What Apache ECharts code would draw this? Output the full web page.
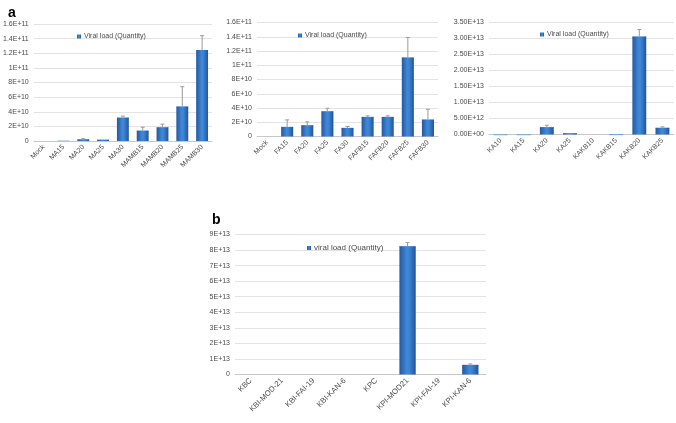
<!DOCTYPE html>
<html><head><meta charset="utf-8">
<script src="https://cdn.jsdelivr.net/npm/echarts@6/dist/echarts.min.js"></script>
<style>html,body{margin:0;padding:0;background:#fff}#c{width:676px;height:423px}</style>
</head><body><div id="c"></div>
<script>
// Panel a1
const catsA1 = ['Mock','MA15','MA20','MA25','MA30','MAMB15','MAMB20','MAMB25','MAMB30'];
const valsA1 = [0, 3e8, 2.3e9, 1.8e9, 3.2e10, 1.42e10, 1.88e10, 4.72e10, 1.243e11];
const errA1  = [null, null, 3.2e9, null, 3.4e10, 1.88e10, 2.3e10, 7.43e10, 1.44e11];
// Panel a2
const catsA2 = ['Mock','FA15','FA20','FA25','FA30','FAFB15','FAFB20','FAFB25','FAFB30'];
const valsA2 = [0, 1.35e10, 1.58e10, 3.54e10, 1.21e10, 2.75e10, 2.75e10, 1.11e11, 2.38e10];
const errA2  = [null, 2.33e10, 2.05e10, 3.96e10, 1.4e10, 2.9e10, 2.9e10, 1.39e11, 3.82e10];
// Panel a3
const catsA3 = ['KA10','KA15','KA20','KA25','KAKB10','KAKB15','KAKB20','KAKB25'];
const valsA3 = [1e11, 1e11, 2.3e12, 4e11, 0, 1.5e11, 3.06e13, 2.1e12];
const errA3  = [null, null, 2.9e12, null, null, null, 3.28e13, 2.4e12];
// Panel b
const catsB = ['KBC','KBI-MOD-21','KBI-FAI-19','KBI-KAN-6','KPC','KPI-MOD21','KPI-FAI-19','KPI-KAN-6'];
const valsB = [0, 0, 0, 0, 0, 8.25e13, 0, 6.2e12];
const errB  = [null, null, null, null, null, 8.48e13, null, 6.8e12];

const nameA = 'Viral load (Quantity)';
const nameB = 'viral load (Quantity)';

function expFmt(dec) {
  return function (v) {
    if (v === 0 && dec === 0) return '0';
    if (v === 0) return (0).toFixed(dec) + 'E+00';
    const e = Math.floor(Math.log10(v) + 1e-9);
    let m = v / Math.pow(10, e);
    m = Math.round(m * 100) / 100;
    const ms = dec > 0 ? m.toFixed(dec) : String(m);
    return ms + 'E+' + (e < 10 ? '0' + e : e);
  };
}

const font = 'Liberation Sans, Arial, sans-serif';
const txtColor = '#4a4a4a';
const barColor = {
  type: 'linear', x: 0, y: 0, x2: 1, y2: 0,
  colorStops: [
    {offset: 0, color: '#2558a0'},
    {offset: 0.45, color: '#3f88d8'},
    {offset: 0.6, color: '#3c84d3'},
    {offset: 1, color: '#22539a'}
  ]
};

const grids = [
  {left: 32, right: 464, top: 24, bottom: 282},
  {left: 257, right: 238, top: 22.5, bottom: 286.5},
  {left: 489, right: 2, top: 22.5, bottom: 288.5},
  {left: 235, right: 190, top: 234.5, bottom: 48.5}
];
const panels = [
  {cats: catsA1, vals: valsA1, err: errA1, max: 1.6e11, interval: 2e10, dec: 0, name: nameA, bw: '60%', xfs: 7},
  {cats: catsA2, vals: valsA2, err: errA2, max: 1.6e11, interval: 2e10, dec: 0, name: nameA, bw: '60%', xfs: 7},
  {cats: catsA3, vals: valsA3, err: errA3, max: 3.5e13, interval: 5e12, dec: 2, name: nameA, bw: '60%', xfs: 7},
  {cats: catsB, vals: valsB, err: errB, max: 9e13, interval: 1e13, dec: 0, name: nameB, bw: '52%', xfs: 7.7}
];

const xAxis = [], yAxis = [], series = [];
panels.forEach((p, i) => {
  xAxis.push({
    type: 'category', gridIndex: i, data: p.cats,
    axisLine: {show: true, lineStyle: {color: '#c8c8c8', width: 1}},
    axisTick: {show: false},
    axisLabel: {rotate: 45, fontSize: p.xfs, color: txtColor, fontFamily: font, margin: 5, interval: 0}
  });
  yAxis.push({
    type: 'value', gridIndex: i, min: 0, max: p.max, interval: p.interval,
    axisLine: {show: false}, axisTick: {show: false},
    splitLine: {lineStyle: {color: '#e3e3e3', width: 1}},
    axisLabel: {fontSize: 7, color: txtColor, fontFamily: font, margin: 5, formatter: expFmt(p.dec)}
  });
  series.push({
    type: 'bar', name: p.name, xAxisIndex: i, yAxisIndex: i, data: p.vals,
    barWidth: p.bw,
    itemStyle: {color: barColor},
    animation: false
  });
  const errData = [];
  p.err.forEach((e, k) => { if (e != null) errData.push([k, p.vals[k], e]); });
  series.push({
    type: 'custom', xAxisIndex: i, yAxisIndex: i, data: errData, silent: true,
    animation: false, z: 3,
    renderItem: function (params, api) {
      const lo = api.coord([api.value(0), api.value(1)]);
      const hi = api.coord([api.value(0), api.value(2)]);
      const cap = 2;
      return {
        type: 'group', children: [
          {type: 'line', shape: {x1: lo[0], y1: lo[1], x2: hi[0], y2: hi[1]}, style: {stroke: '#9a9a9a', lineWidth: 1}},
          {type: 'line', shape: {x1: hi[0] - cap, y1: hi[1], x2: hi[0] + cap, y2: hi[1]}, style: {stroke: '#9a9a9a', lineWidth: 1}}
        ]
      };
    }
  });
  // light top edge on bars
  series.push({
    type: 'custom', xAxisIndex: i, yAxisIndex: i, silent: true, animation: false, z: 2,
    data: p.vals.map((v, k) => [k, v]).filter(d => d[1] > 0),
    renderItem: function (params, api) {
      const pt = api.coord([api.value(0), api.value(1)]);
      const size = api.size([1, 0]);
      const w = size[0] * parseFloat(p.bw) / 100;
      return {type: 'rect', shape: {x: pt[0] - w / 2, y: pt[1], width: w, height: 1.2}, style: {fill: '#9ccbf2'}};
    }
  });
});

function legendAt(name, left, top, fs) {
  return {
    data: [name], left: left, top: top,
    icon: 'rect', itemWidth: 4, itemHeight: 4, itemGap: 2,
    textStyle: {fontSize: fs, color: txtColor, fontFamily: font, padding: [0, 0, 0, -2]},
    selectedMode: false
  };
}
const option = {
  backgroundColor: '#fff',
  animation: false,
  color: ['#2f6fc0'],
  title: [
    {text: 'a', left: 3, top: 1, textStyle: {fontSize: 14, fontWeight: 'bold', color: '#000', fontFamily: font}},
    {text: 'b', left: 207, top: 208, textStyle: {fontSize: 14, fontWeight: 'bold', color: '#000', fontFamily: font}}
  ],
  legend: [
    legendAt(nameA, 72, 28, 7),
    legendAt(nameA, 293, 27, 7),
    legendAt(nameA, 535, 26, 7),
    legendAt(nameB, 302, 239, 8)
  ],
  grid: grids,
  xAxis: xAxis,
  yAxis: yAxis,
  series: series
};
const chart = echarts.init(document.getElementById('c'), null, {renderer: 'canvas'});
chart.setOption(option);
</script>
</body></html>
